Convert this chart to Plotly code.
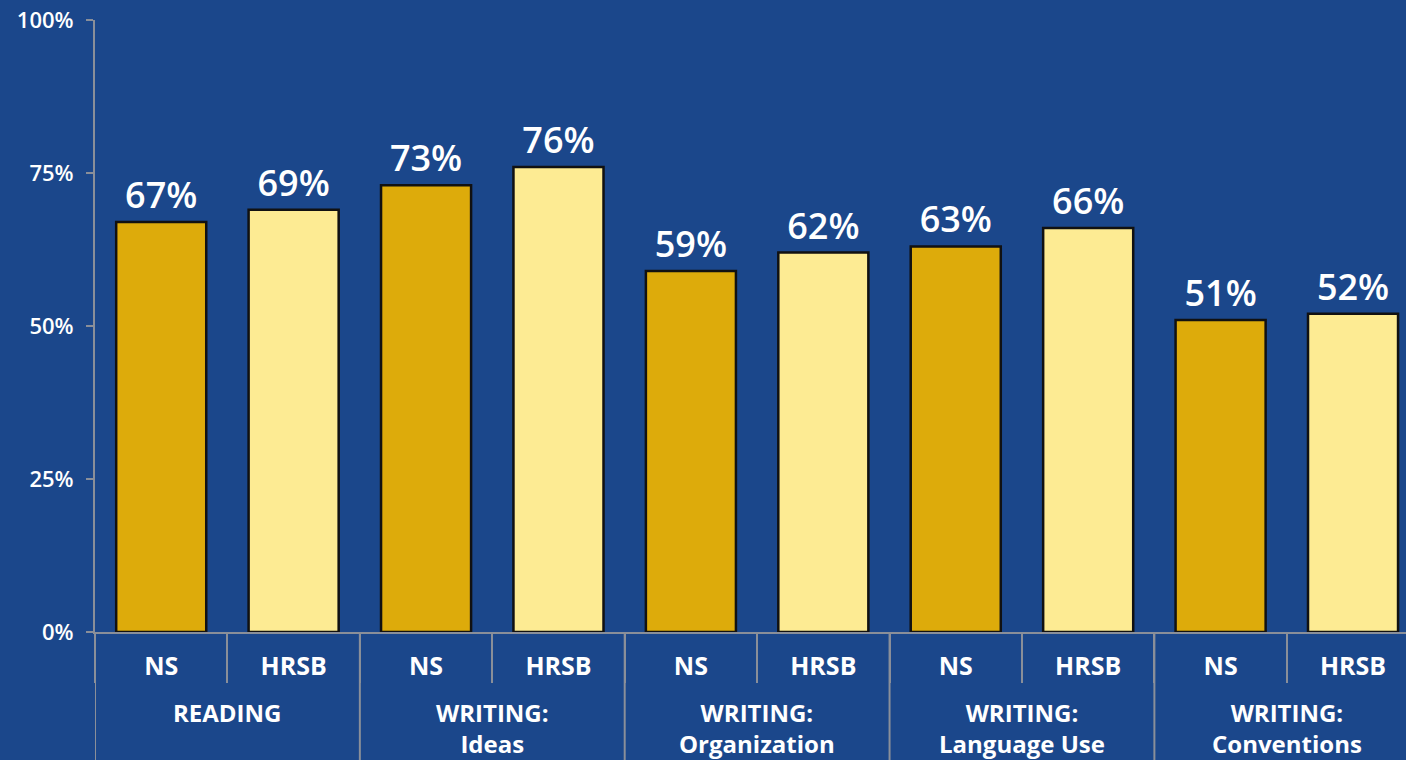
import plotly.graph_objects as go

groups = ["READING", "WRITING:<br>Ideas", "WRITING:<br>Organization",
          "WRITING:<br>Language Use", "WRITING:<br>Conventions"]
series = ["NS", "HRSB"]
ns_values = [67, 73, 59, 63, 51]
hrsb_values = [69, 76, 62, 66, 52]
y_ticks = [0, 25, 50, 75, 100]

bg = "#1b478b"
line_c = "#8a8f99"
colors = {"NS": "#ddab0b", "HRSB": "#fdeb93"}
n_series = len(series)

fig = go.Figure()
for s_i, (name, vals) in enumerate(zip(series, [ns_values, hrsb_values])):
    xs = [g_i * n_series + s_i for g_i in range(len(groups))]
    fig.add_trace(go.Bar(
        x=xs, y=vals, name=name, width=0.68,
        marker=dict(color=colors[name], line=dict(color="#111111", width=2.5)),
        text=[f"{v}%" for v in vals], textposition="outside",
        textfont=dict(color="white", size=36, family="Open Sans", weight=600),
        cliponaxis=False))

n_cats = len(groups) * n_series
tick_pos = list(range(n_cats))
tick_txt = [series[i % n_series] for i in tick_pos]

# group dividers (from the axis down to the bottom of the label area)
for g_i in range(len(groups)):
    xb = g_i * n_series - 0.5
    fig.add_shape(type="line", xref="x", yref="paper", x0=xb, x1=xb,
                  y0=0, y1=-0.23, line=dict(color=line_c, width=2))

# group labels
for g_i, g in enumerate(groups):
    fig.add_annotation(x=g_i * n_series + (n_series - 1) / 2, y=0,
                       xref="x", yref="paper", yanchor="top", yshift=-62,
                       text=g, showarrow=False,
                       font=dict(size=24, color="white", family="Open Sans",
                                 weight="bold"))

fig.update_layout(
    width=1406, height=760,
    paper_bgcolor=bg, plot_bgcolor=bg,
    margin=dict(l=95, r=0, t=20, b=128),
    barmode="overlay", showlegend=False,
    font=dict(family="Open Sans", color="white"),
    xaxis=dict(
        range=[-0.5, n_cats - 0.6],
        tickvals=tick_pos, ticktext=tick_txt,
        showline=True, linecolor=line_c, linewidth=2,
        ticks="", ticklabelstandoff=11,
        minor=dict(ticks="outside", tick0=0.5, dtick=1, ticklen=49,
                   tickcolor=line_c, tickwidth=2, showgrid=False),
        tickfont=dict(size=25, color="white", family="Open Sans", weight="bold"),
        showgrid=False, zeroline=False,
    ),
    yaxis=dict(
        range=[0, 100], tickvals=y_ticks, ticktext=[f"{v}%" for v in y_ticks],
        showline=True, linecolor=line_c, linewidth=2,
        ticks="outside", ticklen=7, tickcolor=line_c, tickwidth=2,
        ticklabelstandoff=8,
        tickfont=dict(size=22, color="white", family="Open Sans", weight=600),
        showgrid=False, zeroline=False,
    ),
)
fig.write_html("out.html", config={"displayModeBar": False},
               post_script="document.body.style.margin='0';document.body.style.overflow='hidden';")
